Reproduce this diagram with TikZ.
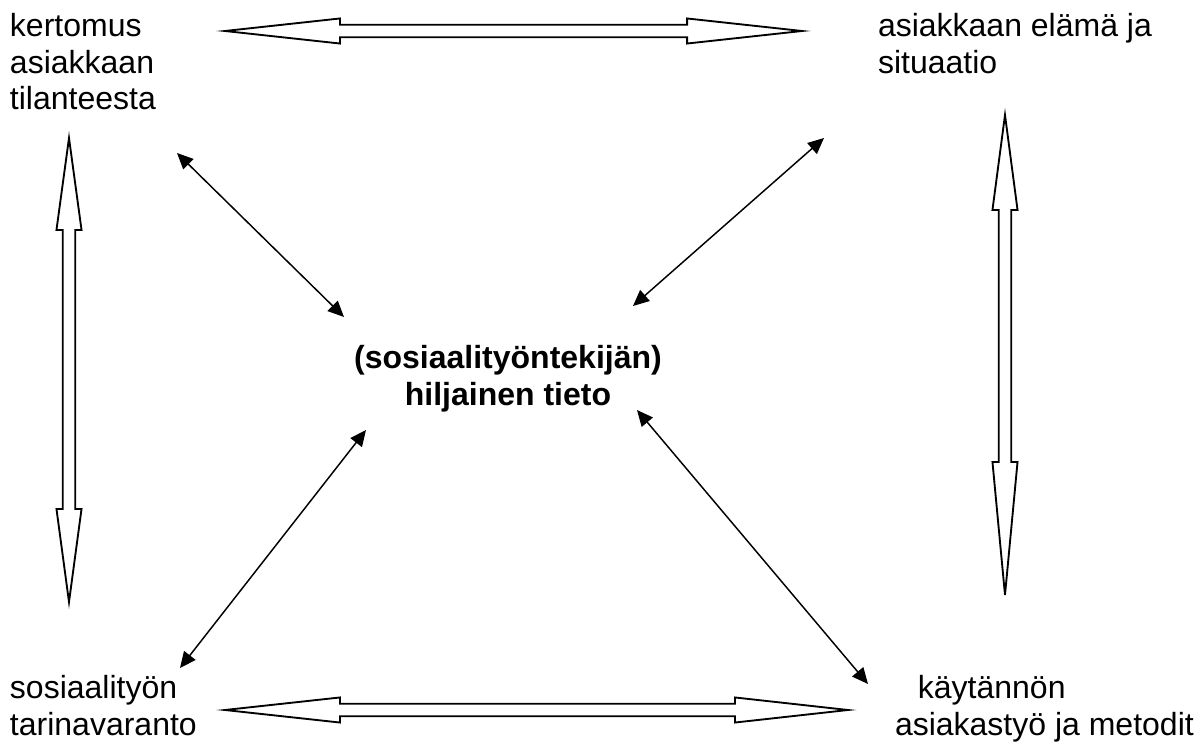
\documentclass[tikz,border=0pt]{standalone}
\usepackage{fontspec}
\setmainfont{Liberation Sans}
\usetikzlibrary{calc,arrows.meta}

\begin{document}
\begin{tikzpicture}[x=0.375pt,y=-0.375pt,
                       label node/.style={inner sep=0pt,outer sep=0pt,anchor=base west,
                                          align=left,font=\fontsize{12}{13.8}\selectfont},
                       thin arrow/.style={line width=0.55pt,>={Triangle[length=6pt,width=5.4pt]},<->},
                       big arrow/.style 2 args={line width=0.7pt,fill=white,to path={
                          let \p1=(\tikztostart), \p2=(\tikztotarget),
                              \n1={veclen(\x2-\x1,\y2-\y1)}, \n2={atan2(\y2-\y1,\x2-\x1)} in
                          [shift={(\p1)},rotate=\n2]
                          (0pt,0pt) -- (#1,4.7pt) -- (#1,2.35pt) -- ({\n1-#2},2.35pt)
                          -- ({\n1-#2},4.7pt) -- (\n1,0pt) -- ({\n1-#2},-4.7pt)
                          -- ({\n1-#2},-2.35pt) -- (#1,-2.35pt) -- (#1,-4.7pt) -- cycle}}
                      ]
   \useasboundingbox (0,0) rectangle (1202,742);

   % the four corners and the centre (base = last line)
   \node[label node] (kertomus) at (10,110) {kertomus\\asiakkaan\\tilanteesta};
   \node[label node] (elama) at (878,73) {asiakkaan elämä ja\\situaatio};
   \node[label node] (tarina) at (10,735) {sosiaalityön\\tarinavaranto};
   \node[label node] (kaytanto) at (895,735) {\hspace*{8.6pt}käytännön\\asiakastyö ja metodit};
   \node[label node,anchor=base,align=center,font=\fontsize{12}{13.8}\selectfont\bfseries]
        (tieto) at (508,405) {(sosiaalityöntekijän)\\hiljainen tieto};

   % ends of the block arrows
   \coordinate (topL) at (225,31);   \coordinate (topR) at (802,31);
   \coordinate (botL) at (225,710);  \coordinate (botR) at (848,710);
   \coordinate (lefT) at (69,138);   \coordinate (lefB) at (69,602);
   \coordinate (rigT) at (1005,115); \coordinate (rigB) at (1005,595);

   \draw[big arrow={43.1pt}{43.1pt}] (topL) to (topR);
   \draw[big arrow={43.1pt}{42.4pt}] (botL) to (botR);
   \draw[big arrow={34.5pt}{34.9pt}] (lefT) to (lefB);
   \draw[big arrow={35.6pt}{49.9pt}] (rigT) to (rigB);

   % ends of the thin arrows
   \coordinate (kerA) at (177,153);  \coordinate (kerB) at (344,317);
   \coordinate (elaA) at (824,138);  \coordinate (elaB) at (633,306);
   \coordinate (tarA) at (180,668);  \coordinate (tarB) at (366,430);
   \coordinate (kayA) at (868,684);  \coordinate (kayB) at (637,410);

   \draw[thin arrow] (kerA) -- (kerB);
   \draw[thin arrow] (elaA) -- (elaB);
   \draw[thin arrow] (tarA) -- (tarB);
   \draw[thin arrow] (kayA) -- (kayB);
 \end{tikzpicture}
\end{document}
